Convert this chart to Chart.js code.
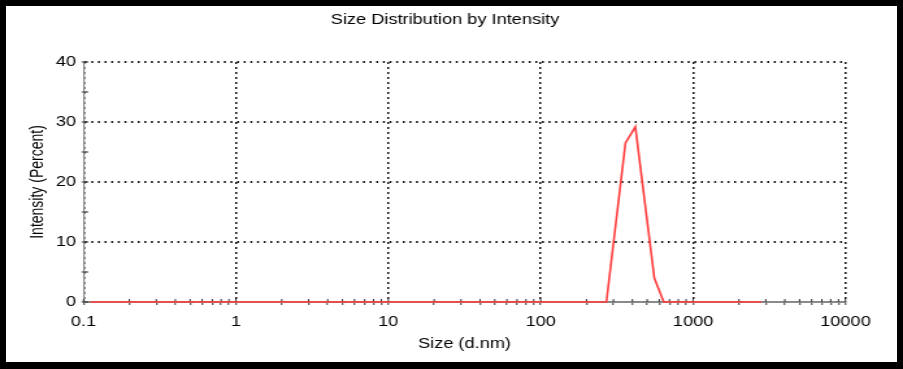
<!DOCTYPE html>
<html><head><meta charset="utf-8">
<script src="https://cdn.jsdelivr.net/npm/chart.js@4/dist/chart.umd.min.js"></script>
<style>
html,body{margin:0;padding:0;background:#fff;}
#wrap{position:absolute;left:0;top:0;width:695px;height:369px;transform:scaleX(1.29928);transform-origin:0 0;}
#wrap canvas{display:block;}
#frame{position:absolute;left:0;top:0;width:903px;height:369px;box-sizing:border-box;border-style:solid;border-color:#000;border-width:6px 6px 7px 6px;pointer-events:none;}
</style></head><body>
<div id="wrap"><canvas id="c" width="695" height="369"></canvas></div>
<div id="frame"></div>
<script>
// ---- data ----
const chartTitle = 'Size Distribution by Intensity';
const xAxisTitle = 'Size (d.nm)';
const yAxisTitle = 'Intensity (Percent)';
const sizes = [0.111, 270, 360, 418, 557, 642, 2810];
const intensity = [0, 0, 26.5, 29.2, 4.0, 0, 0];
const xMajorTicks = [0.1, 1, 10, 100, 1000, 10000];
const xMinorFactors = [2, 3, 4, 5, 6, 7, 8, 9];
const yMin = 0, yMax = 40, yStep = 5, yLabelStep = 10;

const xTickValues = [];
xMajorTicks.forEach((m, i) => {
  xTickValues.push(m);
  if (i < xMajorTicks.length - 1) xMinorFactors.forEach(f => xTickValues.push(m * f));
});
const isMajorX = v => xMajorTicks.some(m => Math.abs(m - v) < m * 1e-9);

const FONT = "'Liberation Sans', Arial, sans-serif";
const AXIS_GRAY = '#8a8a8a';
const TICK = '#333';
const DOT = '#161616';

const innerTicks = {
  id: 'innerTicks',
  beforeDatasetsDraw(chart) {
    const ctx = chart.ctx, xs = chart.scales.x, ys = chart.scales.y;
    ctx.save();
    ctx.setLineDash([]);
    ctx.strokeStyle = TICK;
    ctx.lineWidth = 1;
    xs.ticks.forEach(t => {
      const px = xs.getPixelForValue(t.value);
      ctx.beginPath(); ctx.moveTo(px, xs.top); ctx.lineTo(px, xs.top - 3); ctx.stroke();
    });
    ctx.lineWidth = 1.2;
    ys.ticks.forEach(t => {
      const py = ys.getPixelForValue(t.value);
      ctx.beginPath(); ctx.moveTo(ys.right, py); ctx.lineTo(ys.right + 3.5, py); ctx.stroke();
    });
    ctx.restore();
  }
};

new Chart(document.getElementById('c'), {
  type: 'line',
  data: {
    datasets: [{
      data: sizes.map((s, i) => ({x: s, y: intensity[i]})),
      borderColor: '#ff3c3c',
      borderWidth: 1.6,
      pointRadius: 0,
      tension: 0,
      fill: false,
      clip: false
    }]
  },
  options: {
    responsive: false,
    animation: false,
    devicePixelRatio: 1,
    layout: { padding: { left: 34.3, right: 44.3, top: 0, bottom: 0 } },
    plugins: {
      legend: { display: false },
      tooltip: { enabled: false },
      title: {
        display: true, text: chartTitle, color: '#000',
        font: { family: FONT, size: 14, weight: 'normal' },
        padding: { top: 12.1, bottom: 33.1 }
      }
    },
    scales: {
      x: {
        type: 'logarithmic', min: 0.1, max: 10000,
        afterBuildTicks: s => { s.ticks = xTickValues.map(v => ({ value: v })); },
        afterFit: s => { s.height = 67; },
        ticks: {
          autoSkip: false, maxRotation: 0, minRotation: 0, padding: 8.3, color: '#000',
          font: { family: FONT, size: 14 },
          callback: v => isMajorX(v) ? String(v) : ''
        },
        grid: {
          color: c => (c.tick && isMajorX(c.tick.value)) ? DOT : 'rgba(0,0,0,0)',
          lineWidth: 1.5,
          tickColor: TICK, tickWidth: 1, tickLength: 3, tickBorderDash: []
        },
        border: { display: true, color: AXIS_GRAY, width: 2, dash: [2, 3] },
        title: {
          display: true, text: xAxisTitle, color: '#000',
          font: { family: FONT, size: 14 }, padding: { top: 0, bottom: 16.1 }
        }
      },
      y: {
        type: 'linear', min: yMin, max: yMax,
        afterFit: s => { s.width = 30; },
        ticks: {
          stepSize: yStep, padding: 4.3, color: '#000',
          font: { family: FONT, size: 14 },
          callback: v => (v % yLabelStep === 0) ? String(v) : ''
        },
        grid: {
          color: c => (c.tick && c.tick.value % yLabelStep === 0) ? DOT : 'rgba(0,0,0,0)',
          lineWidth: 2,
          tickColor: TICK, tickWidth: 1.2, tickLength: 1.5, tickBorderDash: []
        },
        border: { display: true, color: AXIS_GRAY, width: 1.2, dash: [1.5, 3.6] },
        title: {
          display: true, text: yAxisTitle, color: '#000',
          font: { family: FONT, size: 14 }, padding: { top: -13.15, bottom: 0 }
        }
      }
    }
  },
  plugins: [innerTicks]
});
</script>
</body></html>
